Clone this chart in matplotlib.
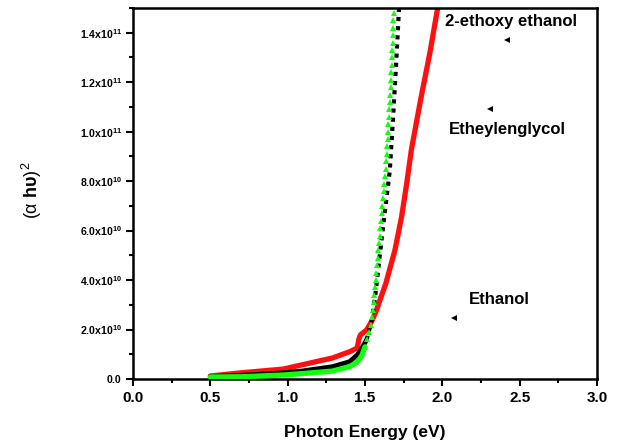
import matplotlib
matplotlib.use("Agg")
import matplotlib.pyplot as plt
from matplotlib.ticker import MultipleLocator, FixedLocator, FuncFormatter

plt.rcParams['font.family'] = ['Liberation Sans', 'DejaVu Sans']
plt.rcParams['mathtext.fontset'] = 'custom'
plt.rcParams['mathtext.rm'] = 'Liberation Sans'
plt.rcParams['mathtext.bf'] = 'Liberation Sans:bold'
plt.rcParams['mathtext.it'] = 'Liberation Sans:italic'

# ---- data (y in units of 1e10) ----
red_x = [0.50, 0.70, 0.97, 1.29, 1.40, 1.45, 1.46, 1.47, 1.51, 1.545, 1.575, 1.60,
         1.635, 1.694, 1.737, 1.77, 1.80, 1.86, 1.92, 1.97]
red_y = [0.12, 0.25, 0.40, 0.85, 1.10, 1.25, 1.60, 1.78, 1.98, 2.35, 2.79, 3.25,
         3.87, 5.22, 6.57, 7.92, 9.27, 11.3, 13.2, 15.0]

black_x = [0.50, 0.70, 0.97, 1.10, 1.29, 1.40, 1.45, 1.48, 1.51, 1.545, 1.565,
           1.585, 1.61, 1.635, 1.66, 1.68, 1.70, 1.72]
black_y = [0.10, 0.15, 0.25, 0.33, 0.50, 0.70, 0.97, 1.25, 1.58, 2.40, 3.30,
           4.40, 5.80, 7.10, 8.40, 10.4, 12.6, 15.0]

green_x = [0.50, 0.70, 0.97, 1.10, 1.29, 1.40, 1.45, 1.48,
           1.500, 1.513, 1.525, 1.537, 1.546, 1.552, 1.557, 1.561, 1.566, 1.570,
           1.574, 1.578, 1.582, 1.586, 1.591, 1.595, 1.599, 1.603, 1.607, 1.611,
           1.615, 1.620, 1.625, 1.630, 1.635, 1.638, 1.641, 1.644, 1.647, 1.650,
           1.652, 1.655, 1.657, 1.660, 1.662, 1.665, 1.667, 1.670, 1.672, 1.674,
           1.676, 1.678, 1.680, 1.682, 1.684, 1.686]
green_y = [0.08, 0.09, 0.16, 0.22, 0.32, 0.50, 0.68, 0.95,
           1.3, 1.6, 1.9, 2.2, 2.5, 2.8, 3.1, 3.4, 3.7, 4.0,
           4.3, 4.6, 4.9, 5.2, 5.5, 5.8, 6.1, 6.4, 6.7, 7.0,
           7.3, 7.6, 7.9, 8.2, 8.5, 8.8, 9.1, 9.4, 9.7, 10.0,
           10.3, 10.6, 10.9, 11.2, 11.5, 11.8, 12.1, 12.4, 12.7, 13.0,
           13.3, 13.6, 13.9, 14.2, 14.5, 14.8]

labels = ["2-ethoxy ethanol", "Etheylenglycol", "Ethanol"]
label_x = [2.02, 2.04, 2.17]
label_y = [14.45, 10.1, 3.2]
arrow_x = [2.42, 2.31, 2.075]
arrow_y = [13.7, 10.9, 2.47]

yticks = [0, 2, 4, 6, 8, 10, 12, 14]
ytick_labels = ["0.0", "2.0x10^10", "4.0x10^10", "6.0x10^10", "8.0x10^10",
                "1.0x10^11", "1.2x10^11", "1.4x10^11"]
# -----------------------------------

scale = 1e10
fig = plt.figure(figsize=(6.22, 4.43), dpi=100)
ax = fig.add_axes([0.2138, 0.1445, 0.7460, 0.8375])

ry = [v * scale for v in red_y]
by = [v * scale for v in black_y]
gy = [v * scale for v in green_y]

ax.plot(red_x, ry, color='#ff1010', lw=3.8, solid_capstyle='round',
        solid_joinstyle='round', zorder=2)

# black: solid in the low part, square dots in the steep part
nb = 8
ax.plot(black_x[:nb + 1], by[:nb + 1], color='black', lw=3.4, solid_capstyle='round', zorder=3)
ax.plot(black_x[nb:], by[nb:], color='black', lw=3.0, linestyle=(0, (1, 1.2)),
        dash_capstyle='butt', zorder=3)

# green: solid in the low part, triangle markers in the steep part
ng = 9
ax.plot(green_x[:ng], gy[:ng], color='#10ff10', lw=3.8, solid_capstyle='round',
        solid_joinstyle='round', zorder=4)
ax.plot(green_x[ng - 1:], gy[ng - 1:], color='#10ff10', lw=0, marker='^', ms=4.2,
        markeredgewidth=0, zorder=4)

for t, x, y in zip(labels, label_x, label_y):
    ax.text(x, y * scale, t, fontsize=12, fontweight='bold', va='center', ha='left')
ax.plot(arrow_x, [v * scale for v in arrow_y], lw=0, marker='<', ms=4.5,
        color='black', markeredgewidth=0)

ax.set_xlim(0, 3.0)
ax.set_ylim(0, 1.5e11)
ax.xaxis.set_major_locator(MultipleLocator(0.5))
ax.xaxis.set_minor_locator(MultipleLocator(0.25))
ax.yaxis.set_major_locator(FixedLocator([v * scale for v in yticks]))
ax.yaxis.set_minor_locator(MultipleLocator(1e10))


def fmt_label(s):
    if '^' in s:
        base, exp = s.split('^')
        return r'$\mathbf{' + base + r'}^{\mathbf{' + exp + r'}}$'
    return s


ax.set_yticklabels([fmt_label(s) for s in ytick_labels], fontsize=7.6, fontweight='bold')
ax.xaxis.set_major_formatter(FuncFormatter(lambda v, p: f"{v:.1f}"))
ax.tick_params(axis='x', which='major', labelsize=11, length=5, width=1.5, direction='out', pad=4)
ax.tick_params(axis='y', which='major', length=5, width=1.5, direction='out', pad=3)
ax.tick_params(which='minor', length=3, width=1.5, direction='out')
ax.tick_params(top=False, right=False)
for lab in ax.get_xticklabels():
    lab.set_fontweight('bold')

for sp in ax.spines.values():
    sp.set_linewidth(1.8)

ax.set_xlabel("Photon Energy (eV)", fontsize=12.5, fontweight='bold', labelpad=14)
fig.text(0.052, 0.57, r'$(\mathrm{\alpha}\ \mathbf{h\upsilon})^2$', rotation=90, fontsize=13,
         ha='center', va='center')

fig.savefig("out.png", dpi=100)
